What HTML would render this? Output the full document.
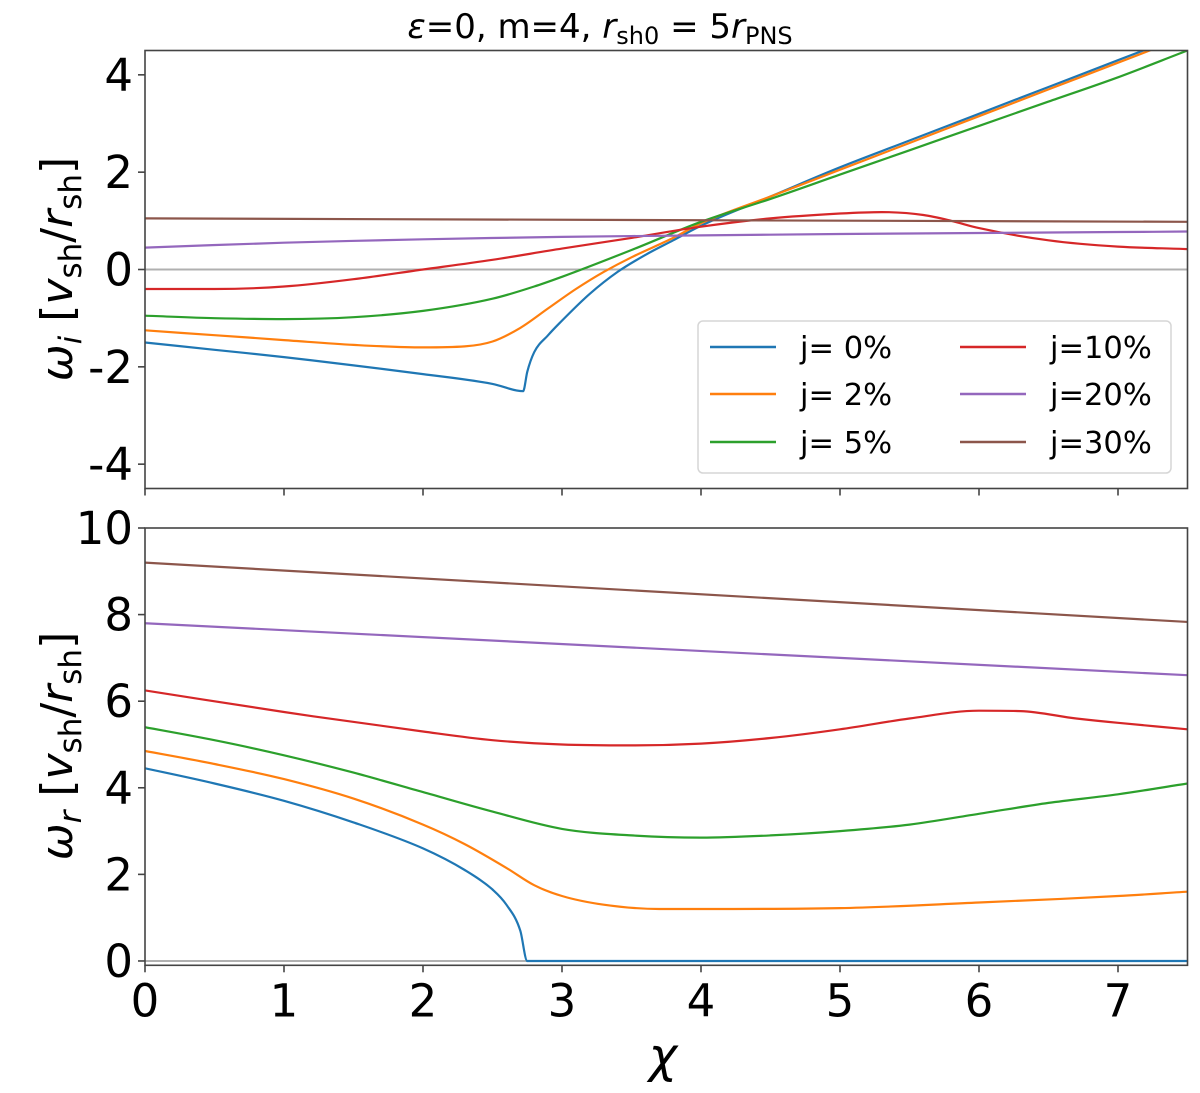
<!DOCTYPE html>
<html><head><meta charset="utf-8"><style>
body{margin:0;background:#fff}
svg{display:block;font-family:"DejaVu Sans","Liberation Sans",sans-serif}
</style></head><body>
<svg id="chart" width="1200" height="1093" viewBox="0 0 1200 1093"></svg>
<script>
const names=["j= 0%","j= 2%","j= 5%","j=10%","j=20%","j=30%"];
const colors=["#1f77b4","#ff7f0e","#2ca02c","#d62728","#9467bd","#8c564b"];
const topX=[
[0,0.5,1,1.5,2,2.5,2.72,2.75,2.8,2.9,3.0,3.2,3.4,3.6,3.8,4.0,4.5,5,5.5,6,6.5,7,7.5],
[0,0.5,1,1.5,2,2.3,2.5,2.7,2.9,3.1,3.3,3.5,3.8,4,4.5,5,5.5,6,6.5,7,7.5],
[0,0.5,1,1.5,2,2.5,2.8,3,3.5,4,4.5,5,5.5,6,6.5,7,7.5],
[0,0.5,1,1.5,2,2.5,3,3.5,4,4.5,5,5.3,5.6,5.8,6,6.5,7,7.5],
[0,1,2,3,4,5,6,7,7.5],
[0,7.5]];
const topY=[
[-1.5,-1.65,-1.8,-1.97,-2.15,-2.35,-2.5,-2.1,-1.7,-1.35,-1.05,-0.5,-0.05,0.3,0.6,0.9,1.5,2.1,2.65,3.2,3.75,4.3,4.85],
[-1.25,-1.35,-1.45,-1.55,-1.6,-1.58,-1.48,-1.2,-0.8,-0.4,-0.05,0.25,0.65,0.95,1.5,2.05,2.6,3.15,3.7,4.25,4.8],
[-0.95,-1.0,-1.02,-0.98,-0.85,-0.6,-0.35,-0.15,0.4,0.98,1.45,1.95,2.45,2.95,3.45,3.95,4.5],
[-0.4,-0.4,-0.35,-0.2,0.0,0.2,0.43,0.65,0.88,1.05,1.15,1.18,1.12,1.0,0.85,0.6,0.47,0.42],
[0.45,0.55,0.62,0.67,0.7,0.73,0.75,0.77,0.78],
[1.05,0.98]];
const botX=[
[0,0.5,1,1.5,2,2.3,2.5,2.6,2.7,2.75,3,7.5],
[0,0.5,1,1.5,2,2.3,2.6,2.8,3,3.3,3.7,4,5,6,7,7.5],
[0,0.5,1,1.5,2,2.5,3,3.5,4,4.5,5,5.5,6,6.5,7,7.5],
[0,1,2,2.5,3,3.5,4,4.5,5,5.5,6,6.3,6.7,7,7.5],
[0,7.5],
[0,7.5]];
const botY=[
[4.45,4.1,3.7,3.2,2.6,2.1,1.65,1.3,0.7,0.0,0,0],
[4.85,4.55,4.2,3.75,3.15,2.7,2.15,1.75,1.5,1.3,1.2,1.2,1.22,1.35,1.5,1.6],
[5.4,5.1,4.75,4.35,3.9,3.45,3.05,2.9,2.85,2.9,3.0,3.15,3.4,3.65,3.85,4.1],
[6.25,5.75,5.3,5.1,5.0,4.98,5.02,5.15,5.35,5.6,5.78,5.77,5.6,5.5,5.35],
[7.8,6.6],
[9.2,7.83]];
const xTicks=[0,1,2,3,4,5,6,7];
const topTicks=[4,2,0,-2,-4];
const topTickLabels=["4","2","0","-2","-4"];
const botTicks=[0,2,4,6,8,10];

const NS="http://www.w3.org/2000/svg";
const svg=document.getElementById('chart');
function el(t,a,p){const e=document.createElementNS(NS,t);for(const k in a)e.setAttribute(k,a[k]);(p||svg).appendChild(e);return e;}
const L=145,R=1187.5;
const sx=v=>L+(R-L)*v/7.5;
const tT=50.5,tB=488.5,sTop=v=>tT+(tB-tT)*(4.5-v)/9;
const bT=528,bB=965.3,sBot=v=>bT+(bB-bT)*(10-v)/10.1;

// monotone cubic path (Fritsch-Carlson)
function monoPath(xs,ys){
  const n=xs.length;
  if(n<3) return 'M'+xs[0]+' '+ys[0]+' L'+xs[1]+' '+ys[1];
  const d=[],m=new Array(n);
  for(let i=0;i<n-1;i++) d.push((ys[i+1]-ys[i])/(xs[i+1]-xs[i]));
  m[0]=d[0];m[n-1]=d[n-2];
  for(let i=1;i<n-1;i++){ m[i]=(d[i-1]*d[i]<=0)?0:(d[i-1]+d[i])/2; }
  for(let i=0;i<n-1;i++){
    if(d[i]===0){m[i]=0;m[i+1]=0;continue;}
    const a=m[i]/d[i],b=m[i+1]/d[i],s=a*a+b*b;
    if(s>9){const t=3/Math.sqrt(s);m[i]=t*a*d[i];m[i+1]=t*b*d[i];}
  }
  let p='M'+xs[0].toFixed(1)+' '+ys[0].toFixed(1);
  for(let i=0;i<n-1;i++){
    const h=(xs[i+1]-xs[i])/3;
    p+=' C'+(xs[i]+h).toFixed(1)+' '+(ys[i]+m[i]*h).toFixed(1)+' '+(xs[i+1]-h).toFixed(1)+' '+(ys[i+1]-m[i+1]*h).toFixed(1)+' '+xs[i+1].toFixed(1)+' '+ys[i+1].toFixed(1);
  }
  return p;
}

function panel(name,top,bot,sy,ticks,labels,XS,YS,showX){
  const g=el('g',{});
  
  
  const zl=el('line',{x1:L,x2:R,y1:sy(0),y2:sy(0),stroke:'#b0b0b0','stroke-width':2},g);
  
  
  const clip=el('clipPath',{id:'c'+name},g);
  el('rect',{x:L,y:top,width:R-L,height:bot-top},clip);
  for(let s=0;s<XS.length;s++){
    const d=monoPath(XS[s].map(sx),YS[s].map(sy));
    const p=el('path',{d:d,fill:'none',stroke:colors[s],'stroke-width':2.2,'clip-path':'url(#c'+name+')','stroke-linejoin':'round'},g);
    
    
  }
  const fr=el('rect',{x:L,y:top,width:R-L,height:bot-top,fill:'none',stroke:'#444','stroke-width':1.6},g);
  
  
  ticks.forEach((t,i)=>{
    const y=sy(t);
    el('line',{x1:L-7,x2:L,y1:y,y2:y,stroke:'#444','stroke-width':1.6},g);
    const tx=el('text',{x:L-12,y:y+16,'text-anchor':'end','font-size':45,fill:'#000'},g);
    tx.textContent=labels[i];
    
    
  });
  xTicks.forEach(t=>{
    el('line',{x1:sx(t),x2:sx(t),y1:bot,y2:bot+7,stroke:'#444','stroke-width':1.6},g);
    if(showX){
      const tx=el('text',{x:sx(t),y:bot+51,'text-anchor':'middle','font-size':45,fill:'#000'},g);
      tx.textContent=String(t);
      
      
    }
  });
}
panel('top-panel',tT,tB,sTop,topTicks,topTickLabels,topX,topY,false);
panel('bottom-panel',bT,bB,sBot,botTicks,botTicks.map(String),botX,botY,true);

// legend
const lg=el('g',{});


el('rect',{x:698,y:321,width:473,height:152,rx:5,fill:'#fff','fill-opacity':0.85,stroke:'#d6d6d6','stroke-width':1.5},lg);
const rowsY=[347,394,442];
for(let s=0;s<6;s++){
  const col=s<3?0:1,row=s%3;
  const lx=col?960:710,tx=col?1050:800,y=rowsY[row];
  const ent=el('g',{},lg);
  
  
  el('line',{x1:lx,x2:lx+66,y1:y,y2:y,stroke:colors[s],'stroke-width':2.4},ent);
  const t=el('text',{x:tx,y:y+11,'font-size':30.5,fill:'#000'},ent);
  t.style.whiteSpace='pre';
  t.textContent=names[s];
}
</script>
<svg width="1200" height="1093" style="position:absolute;left:0;top:0">
<text x="600" y="38" text-anchor="middle" font-size="34" font-family="DejaVu Sans,sans-serif"><tspan font-style="italic">ε</tspan>=0, m=4, <tspan font-style="italic">r</tspan><tspan font-size="24" dy="6">sh0</tspan><tspan dy="-6"> = 5</tspan><tspan font-style="italic">r</tspan><tspan font-size="24" dy="6">PNS</tspan></text>
<text transform="translate(72,269) rotate(-90)" text-anchor="middle" font-size="44" font-family="DejaVu Sans,sans-serif"><tspan font-style="italic">ω</tspan><tspan font-style="italic" font-size="31" dy="9">i</tspan><tspan dy="-9"> [</tspan><tspan font-style="italic">v</tspan><tspan font-size="31" dy="9">sh</tspan><tspan dy="-9">/</tspan><tspan font-style="italic">r</tspan><tspan font-size="31" dy="9">sh</tspan><tspan dy="-9">]</tspan></text>
<text transform="translate(72,746) rotate(-90)" text-anchor="middle" font-size="44" font-family="DejaVu Sans,sans-serif"><tspan font-style="italic">ω</tspan><tspan font-style="italic" font-size="31" dy="9">r</tspan><tspan dy="-9"> [</tspan><tspan font-style="italic">v</tspan><tspan font-size="31" dy="9">sh</tspan><tspan dy="-9">/</tspan><tspan font-style="italic">r</tspan><tspan font-size="31" dy="9">sh</tspan><tspan dy="-9">]</tspan></text>
<text x="663" y="1072" text-anchor="middle" font-size="48" font-style="italic" font-family="DejaVu Sans,sans-serif">χ</text>
</svg>
</body></html>
